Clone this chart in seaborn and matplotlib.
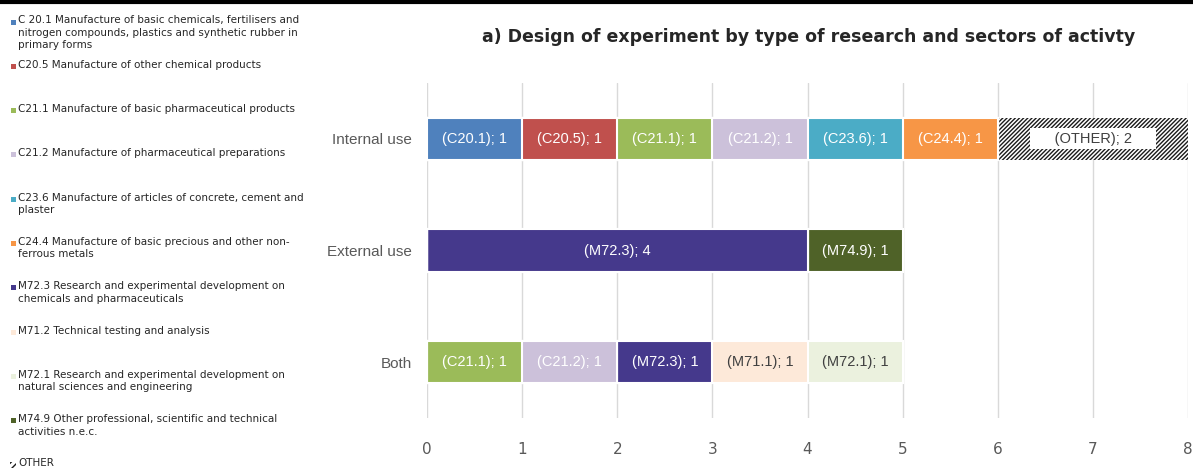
import matplotlib
matplotlib.use("Agg")
import matplotlib.pyplot as plt
import seaborn as sns
import pandas as pd
import numpy as np
from matplotlib.patches import Rectangle
from matplotlib.lines import Line2D

# ---------------- data ----------------
categories = ["Internal use", "External use", "Both"]

legend_labels = [
    "C 20.1 Manufacture of basic chemicals, fertilisers and\nnitrogen compounds, plastics and synthetic rubber in\nprimary forms",
    "C20.5 Manufacture of other chemical products",
    "C21.1 Manufacture of basic pharmaceutical products",
    "C21.2 Manufacture of pharmaceutical preparations",
    "C23.6 Manufacture of articles of concrete, cement and\nplaster",
    "C24.4 Manufacture of basic precious and other non-\nferrous metals",
    "M72.3 Research and experimental development on\nchemicals and pharmaceuticals",
    "M71.2 Technical testing and analysis",
    "M72.1 Research and experimental development on\nnatural sciences and engineering",
    "M74.9 Other professional, scientific and technical\nactivities n.e.c.",
    "OTHER",
]
bar_codes = ["C20.1", "C20.5", "C21.1", "C21.2", "C23.6", "C24.4",
             "M72.3", "M71.1", "M72.1", "M74.9", "OTHER"]

c201 = [1, 0, 0]
c205 = [1, 0, 0]
c211 = [1, 0, 1]
c212 = [1, 0, 1]
c236 = [1, 0, 0]
c244 = [1, 0, 0]
m723 = [0, 4, 1]
m712 = [0, 0, 1]
m721 = [0, 0, 1]
m749 = [0, 1, 0]
other = [2, 0, 0]
series_values = [c201, c205, c211, c212, c236, c244, m723, m712, m721, m749, other]

colors = ["#4F81BD", "#C0504D", "#9BBB59", "#CCC1DA", "#4BACC6", "#F79646",
          "#45398C", "#FDE9D9", "#EBF1DE", "#4F6228", "#FFFFFF"]
text_colors = ["white", "white", "white", "white", "white", "white",
               "white", "#404040", "#404040", "white", "#404040"]

x_ticks = [0, 1, 2, 3, 4, 5, 6, 7, 8]

# ---------------- style ----------------
sns.set_theme(style="white")
plt.rcParams["hatch.linewidth"] = 1.0

W, H = 1193, 470
fig = plt.figure(figsize=(W / 100, H / 100), dpi=100)
ax = fig.add_axes([427 / W, 1 - 418 / H, (1188 - 427) / W, (418 - 83) / H])

vals = np.array(series_values, dtype=float)
cum = np.cumsum(vals, axis=0)

# draw cumulative bars from last series to first (stacking)
for i in range(len(series_values) - 1, -1, -1):
    df = pd.DataFrame({"use": categories, "value": cum[i]})
    if bar_codes[i] == "OTHER":
        kw = dict(hatch="////////", edgecolor="#1a1a1a", linewidth=0)
    else:
        kw = dict(edgecolor="white", linewidth=1.5)
    sns.barplot(data=df, x="value", y="use", order=categories, color=colors[i],
                saturation=1, width=0.38, errorbar=None, orient="h", ax=ax, **kw)

# labels
for i in range(len(series_values)):
    for j, cat in enumerate(categories):
        v = vals[i, j]
        if v <= 0:
            continue
        xc = cum[i, j] - v / 2
        txt = f"({bar_codes[i]}); {int(v)}"
        if bar_codes[i] == "OTHER":
            ax.text(xc, j, f"     {txt}     ", ha="center", va="center",
                    fontsize=10.5, family="Liberation Sans", color=text_colors[i],
                    bbox=dict(boxstyle="square,pad=0.25", facecolor="white", edgecolor="none"))
        else:
            ax.text(xc, j, txt, ha="center", va="center", fontsize=10.5,
                    family="Liberation Sans", color=text_colors[i])

ax.set_xlim(0, 8)
ax.set_ylim(2.5, -0.5)
ax.set_xticks(x_ticks)
ax.set_xticklabels([str(t) for t in x_ticks])
ax.set_xlabel("")
ax.set_ylabel("")
ax.grid(axis="x", color="#D9D9D9", linewidth=1)
ax.grid(axis="y", visible=False)
ax.set_axisbelow(True)
for s in ax.spines.values():
    s.set_visible(False)
ax.tick_params(axis="x", length=0, pad=17, labelsize=11, labelcolor="#595959")
ax.tick_params(axis="y", length=0, pad=11, labelsize=11, labelcolor="#595959")
for lab in ax.get_yticklabels():
    lab.set_family("Liberation Sans")

# title
fig.text(809 / W, 1 - 37 / H,
         "a) Design of experiment by type of research and sectors of activty",
         ha="center", va="center", fontsize=12.5, fontweight="bold", color="#262626")

# top rule
fig.add_artist(Line2D([0, 1], [1 - 2 / H, 1 - 2 / H], color="black", linewidth=3,
                      transform=fig.transFigure))

# legend (manual, left column)
for i, lab in enumerate(legend_labels):
    yc = 22 + i * 44.3
    if bar_codes[i] == "OTHER":
        fig.add_artist(Rectangle((10 / W, 1 - (yc + 3) / H), 6 / W, 6 / H,
                                 transform=fig.transFigure, facecolor="white",
                                 edgecolor="#1a1a1a", linewidth=0, hatch="/////"))
    else:
        fig.add_artist(Rectangle((11 / W, 1 - (yc + 2.5) / H), 5 / W, 5 / H,
                                 transform=fig.transFigure, facecolor=colors[i],
                                 edgecolor="none"))
    fig.text(18 / W, 1 - (yc - 6.5) / H, lab, ha="left", va="top", fontsize=7.5,
             color="#262626", linespacing=1.3)

fig.savefig("out.png", dpi=100)
